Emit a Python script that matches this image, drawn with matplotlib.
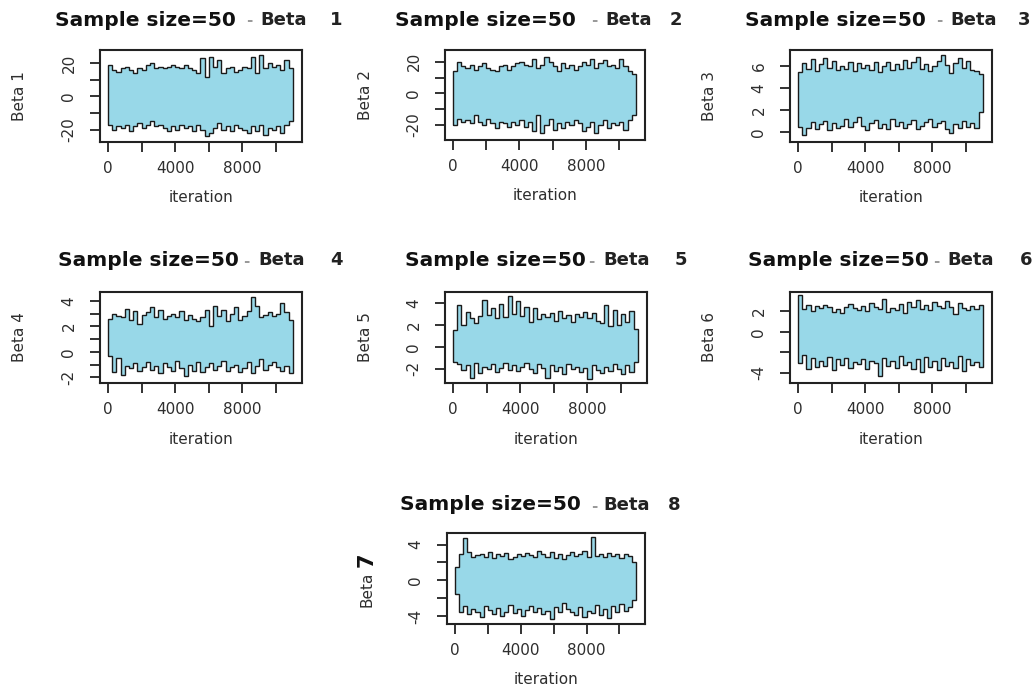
import matplotlib
matplotlib.use("Agg")
import matplotlib.pyplot as plt
import numpy as np

N_ITER = 11000
FILL = "#98d8e8"
TXT = "#2e2e2e"

# upper / lower envelope of each trace, one value per 250 iterations
beta1_upper = [19, 16, 15, 17, 18, 16, 14, 17, 16, 19, 20, 17, 18, 17, 18, 19, 18, 17, 19, 17, 16, 14,
               23, 12, 24, 18, 22, 14, 17, 18, 15, 16, 18, 17, 24, 14, 25, 17, 20, 18, 19, 16, 22, 17]
beta1_lower = [-17, -20, -18, -19, -17, -21, -18, -16, -19, -17, -15, -18, -17, -19, -21, -18, -20, -17,
               -19, -18, -21, -17, -20, -24, -22, -19, -16, -20, -18, -21, -17, -19, -20, -22, -18, -21,
               -17, -23, -19, -20, -18, -22, -17, -15]
beta2_upper = [14, 20, 17, 16, 18, 15, 17, 19, 16, 15, 14, 17, 18, 15, 17, 19, 20, 18, 17, 22, 16, 18,
               23, 20, 17, 14, 19, 16, 18, 15, 17, 20, 18, 22, 16, 19, 21, 17, 18, 16, 22, 17, 14, 12]
beta2_lower = [-20, -16, -18, -17, -19, -14, -18, -20, -16, -19, -22, -18, -19, -21, -18, -20, -17, -21,
               -18, -24, -14, -25, -20, -16, -23, -19, -22, -18, -20, -17, -19, -24, -21, -18, -25, -20,
               -17, -22, -19, -20, -18, -23, -17, -14]
beta3_upper = [5.5, 6.3, 5.8, 6.7, 5.6, 6.2, 6.8, 5.9, 6.5, 5.7, 6.0, 5.8, 6.4, 5.6, 6.3, 5.9, 6.1, 5.7,
               6.4, 5.5, 6.0, 6.4, 5.7, 6.2, 5.8, 6.6, 5.9, 6.4, 6.9, 5.8, 6.2, 5.6, 6.0, 6.5, 7.0, 6.1,
               5.4, 6.3, 6.8, 5.9, 6.5, 5.7, 5.6, 5.3]
beta3_lower = [0.5, -0.3, 0.4, 0.9, 0.3, 0.7, 1.0, 0.2, 0.8, 0.4, 0.6, 1.2, 0.5, 0.9, 1.4, 0.6, 0.2, 0.8,
               1.1, 0.4, 0.7, 0.3, 1.2, 0.6, 0.9, 0.4, 0.7, 1.1, 0.3, 0.6, 0.9, 1.2, 0.5, 0.8, 1.0, 0.3,
               -0.1, 0.7, 0.4, 1.0, 0.5, 0.8, 0.4, 1.8]
beta4_upper = [2.6, 3.0, 2.8, 2.7, 3.4, 2.5, 3.2, 2.2, 2.9, 3.1, 3.5, 2.7, 3.3, 2.6, 2.8, 3.0, 2.7, 3.2,
               2.5, 2.9, 2.6, 2.4, 2.7, 3.3, 2.0, 3.6, 2.8, 3.3, 2.4, 3.0, 3.5, 2.5, 2.8, 3.2, 4.3, 3.6,
               2.7, 2.9, 3.1, 2.8, 3.0, 3.8, 3.1, 2.5]
beta4_lower = [-0.3, -1.6, -0.5, -1.8, -1.1, -1.3, -0.9, -1.5, -1.2, -0.8, -1.4, -1.1, -1.7, -0.9, -1.2,
               -1.5, -0.7, -1.3, -1.9, -1.0, -1.5, -0.8, -1.6, -1.2, -0.9, -1.4, -1.1, -0.7, -1.5, -1.2,
               -1.0, -1.6, -1.3, -0.8, -1.7, -1.1, -0.6, -1.4, -1.0, -0.8, -1.2, -1.5, -1.1, -1.7]
beta5_upper = [1.5, 3.8, 2.0, 3.2, 2.6, 2.2, 2.8, 4.3, 2.9, 3.5, 2.6, 3.9, 2.7, 4.6, 3.0, 4.2, 2.8, 3.6,
               2.3, 3.5, 2.5, 3.0, 2.7, 3.1, 2.4, 3.3, 2.6, 2.9, 2.3, 3.0, 2.7, 3.2, 2.6, 3.1, 2.4, 2.2,
               3.8, 1.9, 3.4, 2.0, 3.0, 2.3, 3.3, 1.6]
beta5_lower = [-1.4, -1.6, -2.1, -1.7, -2.8, -1.5, -2.4, -1.8, -2.0, -1.6, -2.3, -1.9, -1.5, -2.1, -1.7,
               -2.2, -1.8, -1.5, -2.0, -2.4, -1.6, -1.9, -2.8, -1.7, -2.2, -1.8, -2.5, -1.6, -2.0, -1.8,
               -2.3, -1.9, -2.9, -1.7, -2.1, -2.4, -1.8, -2.2, -1.6, -2.0, -2.5, -1.7, -2.3, -1.4]
beta6_upper = [3.6, 2.2, 2.6, 2.0, 2.5, 2.3, 2.6, 2.4, 1.9, 2.2, 1.8, 2.4, 2.7, 2.3, 2.1, 2.5, 2.0, 2.8,
               2.4, 2.2, 3.2, 1.9, 2.3, 2.1, 2.7, 1.8, 2.9, 2.4, 3.1, 2.2, 2.6, 2.1, 2.9, 2.5, 2.3, 3.0,
               2.4, 1.7, 2.8, 2.3, 2.1, 2.5, 2.2, 2.6]
beta6_lower = [-3.0, -2.3, -3.6, -2.6, -3.4, -2.8, -3.3, -2.5, -3.7, -2.7, -3.2, -2.6, -3.5, -2.9, -3.1,
               -2.7, -3.6, -2.8, -3.0, -4.3, -2.6, -3.3, -2.8, -3.5, -2.4, -3.2, -2.9, -3.6, -2.7, -3.9,
               -2.5, -3.4, -2.8, -3.7, -2.6, -3.3, -2.9, -3.5, -2.4, -3.8, -2.7, -3.2, -2.9, -3.4]
beta7_upper = [1.5, 3.0, 4.7, 3.2, 2.6, 2.8, 3.0, 2.6, 3.2, 2.5, 3.0, 2.7, 3.1, 2.4, 2.6, 2.9, 2.7, 3.1,
               2.8, 2.6, 3.3, 2.9, 2.6, 3.2, 2.5, 3.0, 2.4, 2.8, 3.2, 2.7, 2.9, 3.3, 2.6, 4.8, 2.7, 3.0,
               2.6, 3.1, 2.7, 2.9, 2.5, 2.9, 2.7, 2.0]
beta7_lower = [-1.5, -3.6, -2.9, -3.8, -3.2, -3.6, -4.1, -2.9, -3.3, -3.8, -3.1, -4.0, -3.5, -2.8, -3.7,
               -3.2, -4.0, -3.3, -2.9, -3.6, -3.1, -3.8, -3.4, -4.3, -3.0, -3.6, -2.5, -3.2, -3.5, -3.9,
               -3.0, -4.1, -3.4, -3.7, -2.8, -3.9, -3.2, -4.2, -2.9, -3.5, -2.7, -3.4, -3.0, -2.2]

x_ticks = [0, 2000, 4000, 6000, 8000, 10000]
x_ticklabels = ["0", "", "4000", "", "8000", ""]

# y ticks / labels per panel (R drops labels that would overlap)
y_ticks = {
    1: [-20, -10, 0, 10, 20], 2: [-20, -10, 0, 10, 20], 3: [0, 2, 4, 6],
    4: [-2, -1, 0, 1, 2, 3, 4], 5: [-2, 0, 2, 4], 6: [-4, -2, 0, 2], 7: [-4, -2, 0, 2, 4],
}
y_ticklabels = {
    1: ["-20", "", "0", "", "20"], 2: ["-20", "", "0", "", "20"], 3: ["0", "2", "4", "6"],
    4: ["-2", "", "0", "", "2", "", "4"], 5: ["-2", "0", "2", "4"], 6: ["-4", "", "0", "2"],
    7: ["-4", "", "0", "", "4"],
}
y_lims = {1: (-27.5, 28), 2: (-29.5, 27.4), 3: (-0.9, 7.5), 4: (-2.45, 4.7),
          5: (-3.3, 5.0), 6: (-5.0, 3.9), 7: (-4.9, 5.3)}
title_nums = {1: "1", 2: "2", 3: "3", 4: "4", 5: "5", 6: "6", 7: "8"}

traces = {
    1: (beta1_upper, beta1_lower), 2: (beta2_upper, beta2_lower), 3: (beta3_upper, beta3_lower),
    4: (beta4_upper, beta4_lower), 5: (beta5_upper, beta5_lower), 6: (beta6_upper, beta6_lower),
    7: (beta7_upper, beta7_lower),
}

W, H = 1033, 692

# axes boxes in pixels: left, top, right, bottom
boxes = {
    1: (100, 50, 302, 142), 2: (445, 50, 645, 140), 3: (790, 50, 992, 142),
    4: (100, 292, 302, 383), 5: (445, 292, 647, 383), 6: (790, 292, 992, 383),
    7: (447, 533, 645, 624),
}
# title pieces: (x of "Sample size=50", x of "-", x of "Beta", x of number, y centre)
title_pos = {
    1: (55, 246, 260, 330, 20), 2: (395, 591, 605, 670, 20), 3: (745, 936, 950, 1018, 20),
    4: (58, 243, 258, 330, 260), 5: (405, 588, 603, 675, 260), 6: (748, 933, 947, 1020, 260),
    7: (400, 591, 603, 668, 505),
}


def fx(px):
    return px / W


def fy(py):
    return 1 - py / H


fig = plt.figure(figsize=(W / 100, H / 100), dpi=100)
fig.patch.set_facecolor("white")

for k in range(1, 8):
    l, t, r, b = boxes[k]
    ax = fig.add_axes([fx(l), fy(b), (r - l) / W, (b - t) / H])
    up, lo = traces[k]
    edges = np.linspace(0, N_ITER, len(up) + 1)
    ax.stairs(up, edges, baseline=lo, fill=True, color=FILL, lw=0)
    ax.stairs(up, edges, baseline=lo, fill=False, color="#1a1a1a", lw=1.0)
    ax.set_xlim(-480, 11550)
    ax.set_ylim(*y_lims[k])

    ax.set_xticks(x_ticks)
    ax.set_xticklabels(x_ticklabels)
    ax.set_yticks(y_ticks[k])
    ax.set_yticklabels(y_ticklabels[k], rotation=90, va="center")
    ax.tick_params(axis="both", length=7, width=1.3, color="#222222",
                   labelsize=11, labelcolor=TXT)
    ax.tick_params(axis="x", pad=7)
    ax.tick_params(axis="y", pad=10)
    for s in ax.spines.values():
        s.set_linewidth(1.5)
        s.set_color("#222222")

    # x label
    ax.text(0.5, -56 / (b - t), "iteration", transform=ax.transAxes, ha="center", va="center",
            fontsize=11, color=TXT)

    # y label
    lab_x = {1: 20, 2: 365, 3: 710, 4: 20, 5: 365, 6: 710}
    if k < 7:
        fig.text(fx(lab_x[k]), fy((t + b) / 2), f"Beta {k}", rotation=90, ha="center",
                 va="center", fontsize=11, color=TXT)
    else:
        fig.text(fx(367), fy(589), "Beta", rotation=90, ha="center", va="center",
                 fontsize=11, color=TXT)
        fig.text(fx(367), fy(560), "7", rotation=90, ha="center", va="center",
                 fontsize=15, fontweight="bold", color="#111111")

    # title in pieces
    xs, xd, xb, xn, yc = title_pos[k]
    fig.text(fx(xs), fy(yc), "Sample size=50", ha="left", va="center", fontsize=14.5,
             fontweight="bold", color="#111111")
    fig.text(fx(xd), fy(yc + 1), "-", ha="left", va="center", fontsize=11,
             fontweight="bold", color="#9a9a9a")
    fig.text(fx(xb), fy(yc), "Beta", ha="left", va="center", fontsize=13,
             fontweight="bold", color="#222222")
    fig.text(fx(xn), fy(yc), title_nums[k], ha="left", va="center", fontsize=13,
             fontweight="bold", color="#222222")

fig.savefig("out.png", dpi=100)
plt.close(fig)
